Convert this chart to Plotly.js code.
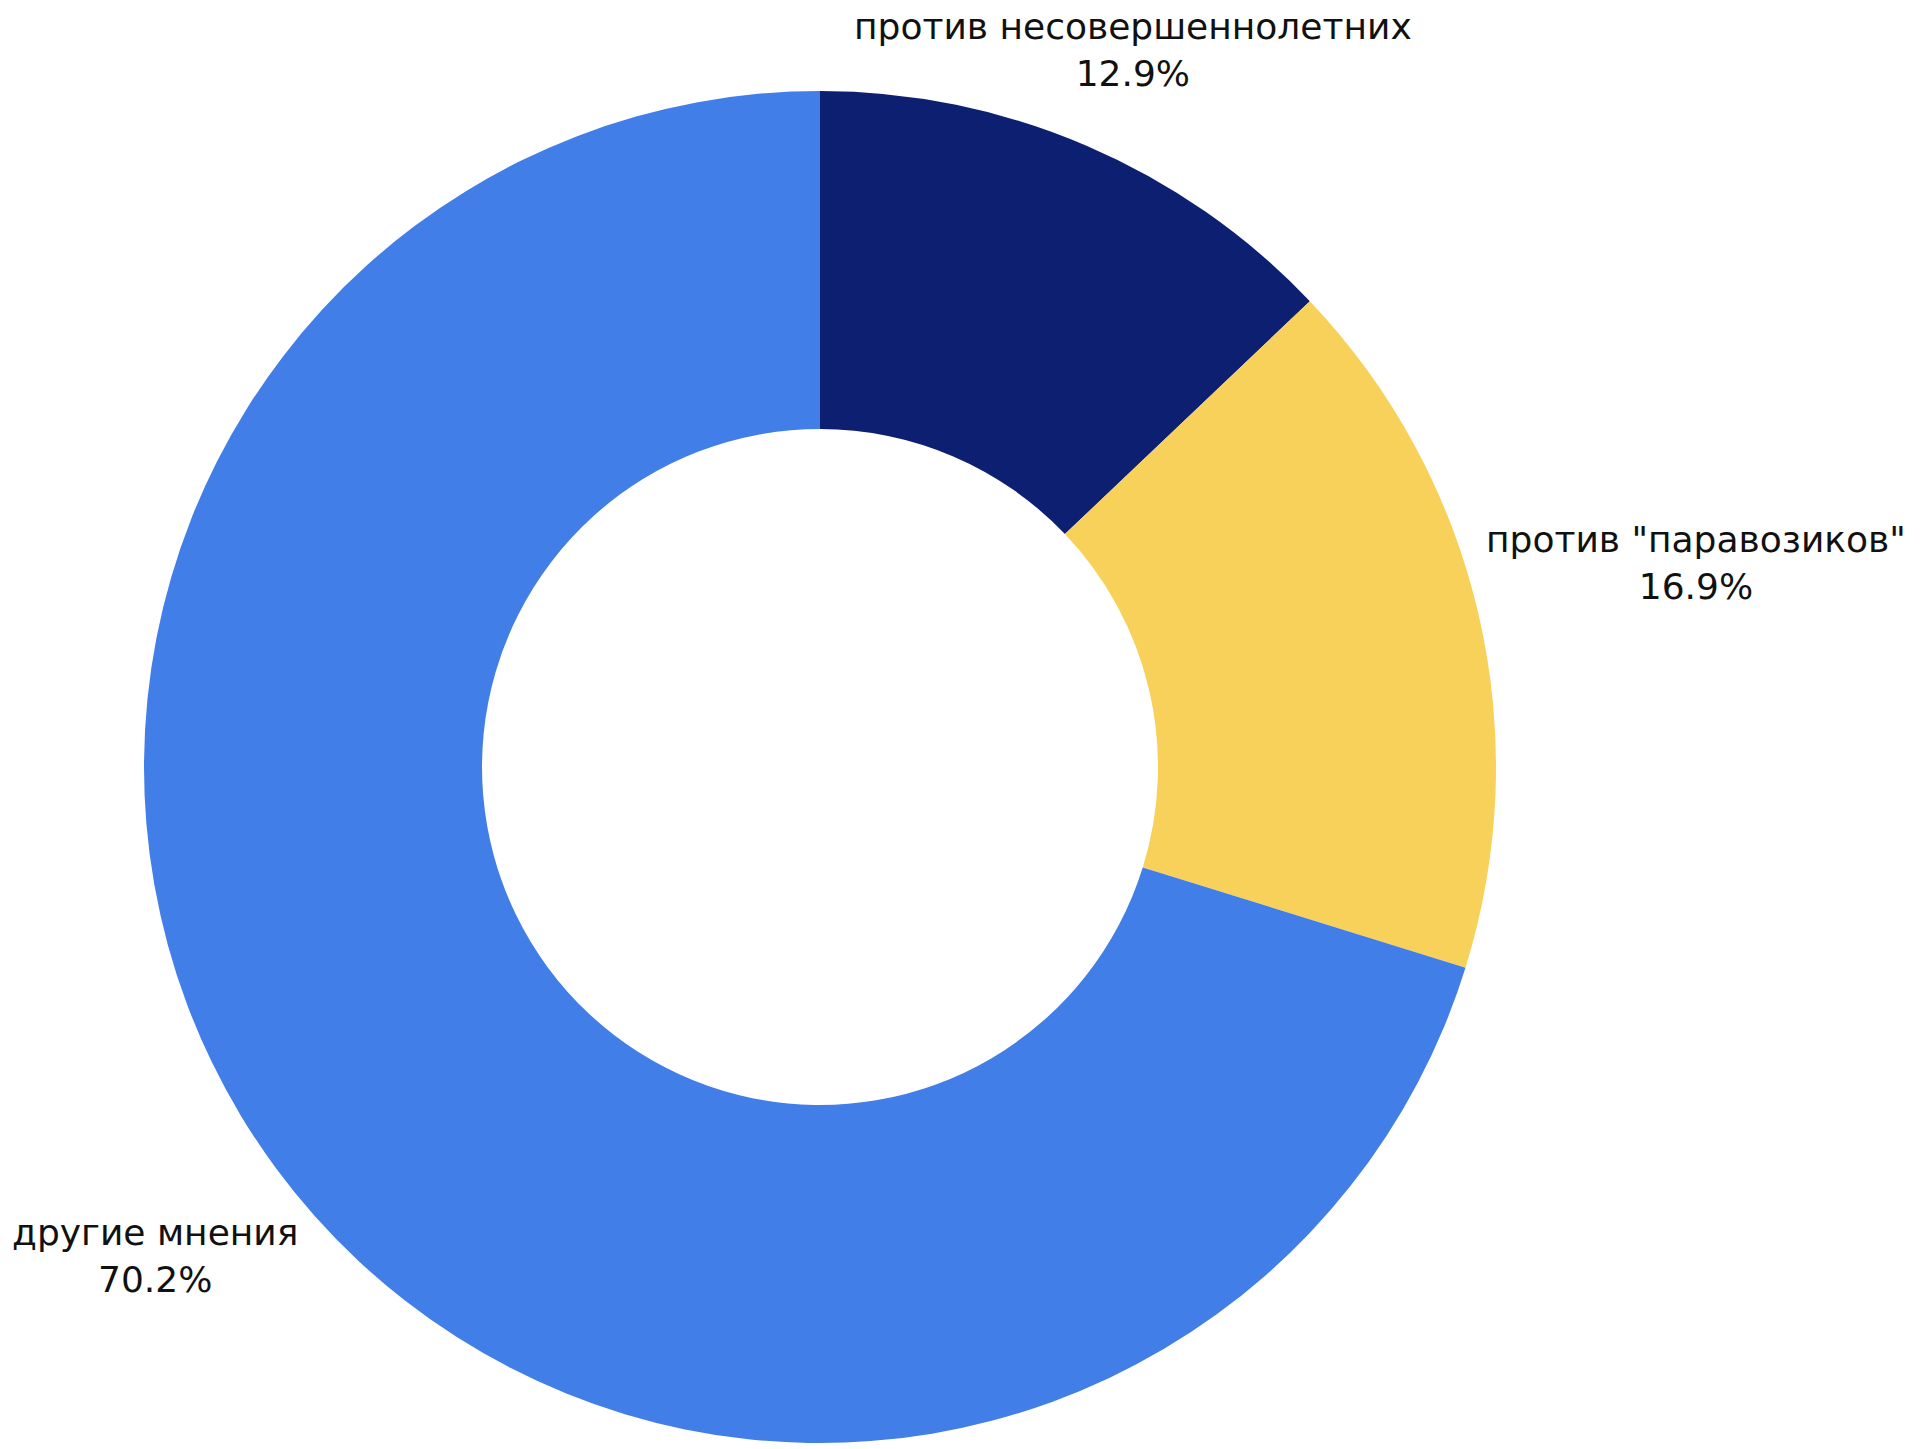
<!DOCTYPE html>
<html>
<head>
<meta charset="utf-8">
<script src="https://cdn.plot.ly/plotly-3.0.1.min.js"></script>
<style>html,body{margin:0;padding:0;background:#fff;}</style>
</head>
<body>
<div id="chart" style="width:1920px;height:1449px;"></div>
<script>
const labels = ['против несовершеннолетних', 'против "паравозиков"', 'другие мнения'];
const values = [12.9, 16.9, 70.2];
const colors = ['#0C1F71', '#F8D15B', '#427EE8'];

const W = 1920, H = 1449;
const margin = {l: 0, r: 280, t: 91, b: 6};
const fontFamily = 'DejaVu Sans';
const fontSize = 36;
const gap = 8;

const plotW = W - margin.l - margin.r;
const plotH = H - margin.t - margin.b;
const R = Math.min(plotW, plotH) / 2;
const cyPix = margin.t + plotH / 2;

const canvas = document.createElement('canvas');
const ctx = canvas.getContext('2d');
ctx.font = fontSize + 'px "' + fontFamily + '"';

const total = values.reduce((a, b) => a + b, 0);
let cum = 0;
const annotations = labels.map((lab, i) => {
  const v = values[i];
  const mid = 2 * Math.PI * (cum + v / 2) / total;
  cum += v;
  const pct = (v / total * 100).toFixed(1) + '%';
  const w = Math.max(ctx.measureText(lab).width, ctx.measureText(pct).width);
  const h = 2 * 1.3 * fontSize;
  const ux = Math.sin(mid), uy = -Math.cos(mid);
  const sx = (ux >= 0 ? 1 : -1) * w / 2;
  const sy = (uy >= 0 ? 1 : -1) * h / 2;
  const us = ux * sx + uy * sy;
  const ss = sx * sx + sy * sy;
  const rr = R + gap;
  const d = us + Math.sqrt(us * us - ss + rr * rr);
  const px = d * ux;
  let py = d * uy;
  // keep the label block inside the picture
  const minCenter = h / 2 + 3 - cyPix;
  const maxCenter = H - h / 2 - 3 - cyPix;
  py = Math.min(Math.max(py, minCenter), maxCenter);
  return {
    xref: 'paper', yref: 'paper',
    x: 0.5 + px / plotW,
    y: 0.5 - py / plotH,
    xanchor: 'center', yanchor: 'middle',
    text: lab + '<br>' + pct,
    showarrow: false,
    align: 'center',
    font: {family: fontFamily, size: fontSize, color: '#111111'}
  };
});

const trace = {
  type: 'pie',
  labels: labels,
  values: values,
  hole: 0.5,
  sort: false,
  direction: 'clockwise',
  rotation: 0,
  marker: {colors: colors, line: {width: 0}},
  textinfo: 'none',
  showlegend: false
};

const layout = {
  width: W,
  height: H,
  margin: margin,
  paper_bgcolor: '#ffffff',
  plot_bgcolor: '#ffffff',
  showlegend: false,
  annotations: annotations
};

Plotly.newPlot('chart', [trace], layout, {displayModeBar: false, staticPlot: true});
</script>
</body>
</html>
